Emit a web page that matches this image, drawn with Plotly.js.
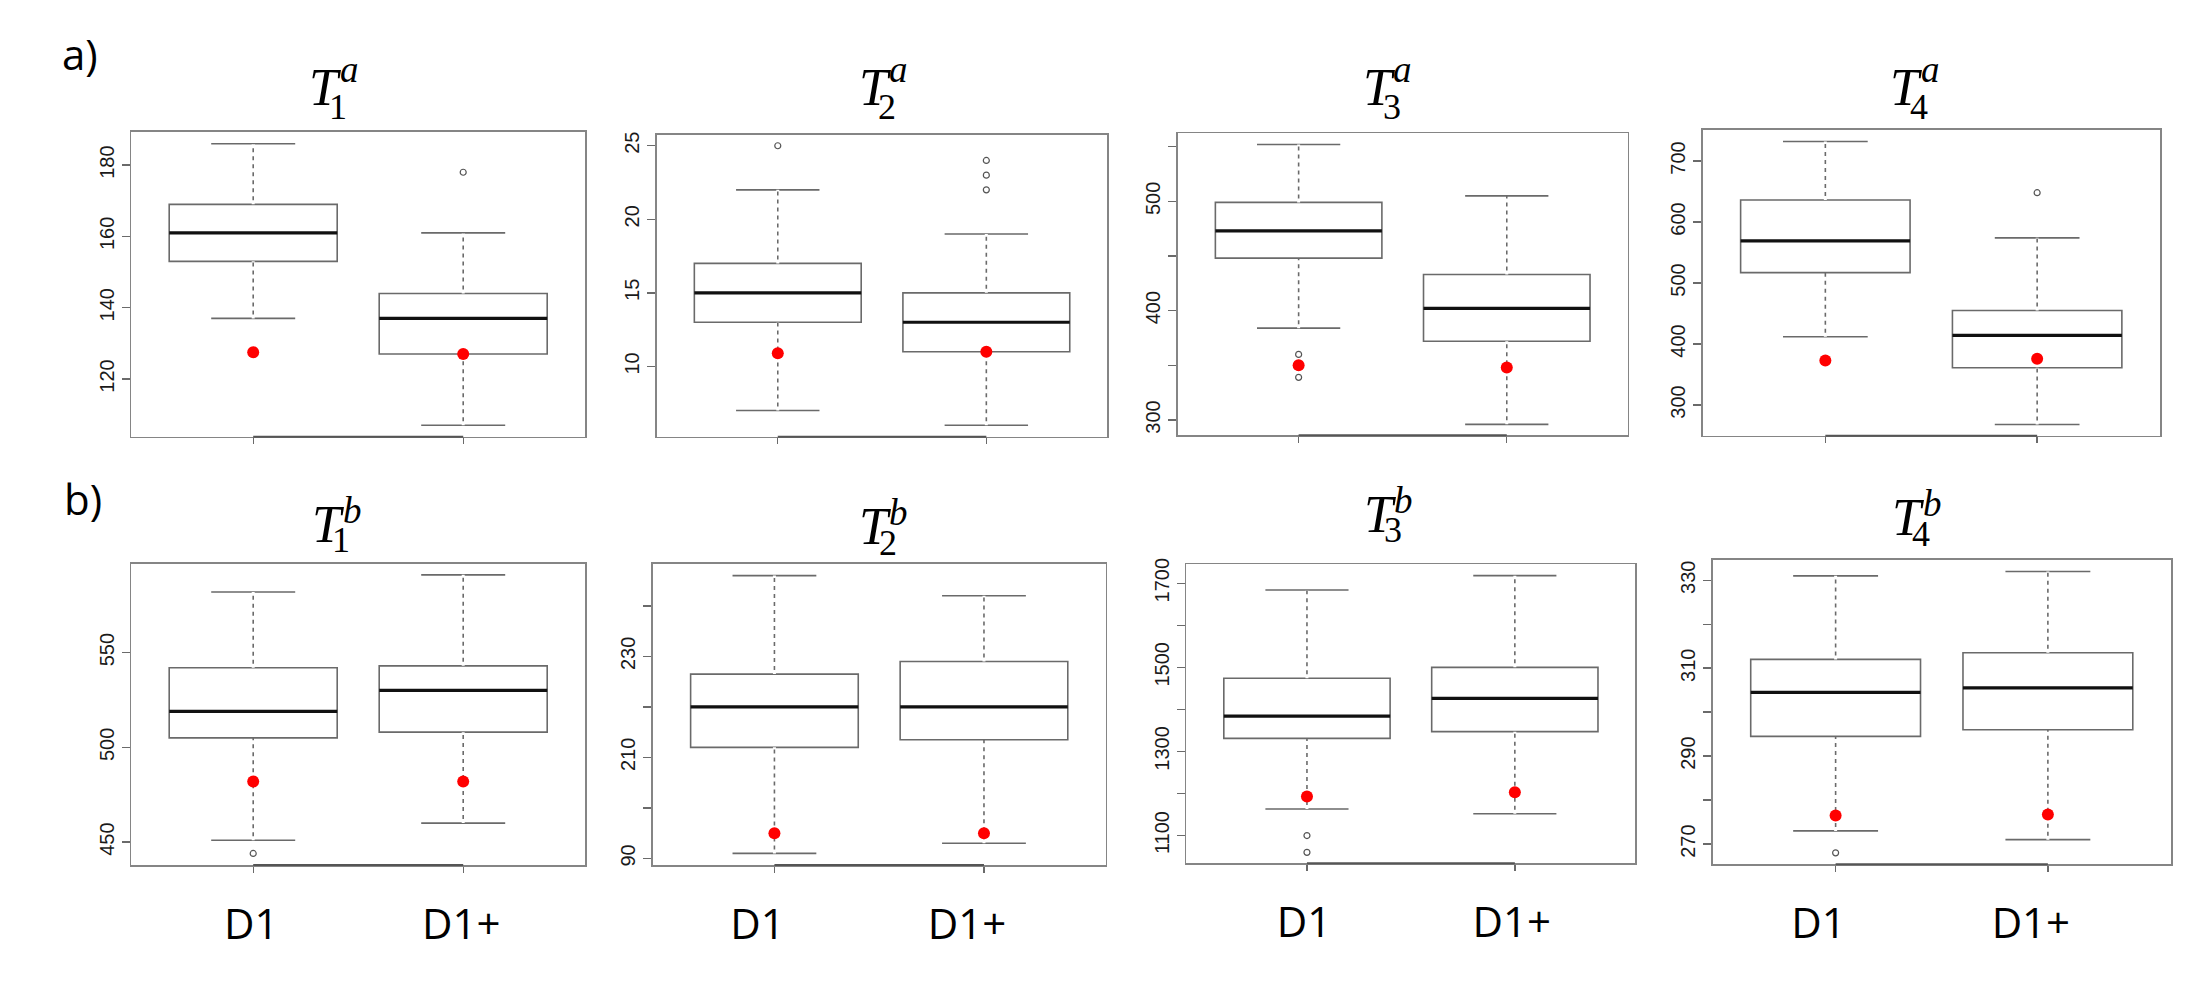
<!DOCTYPE html>
<html>
<head>
<meta charset="utf-8">
<script src="https://cdn.plot.ly/plotly-3.0.1.min.js"></script>
<style>html,body{margin:0;padding:0;background:#fff;}#chart{width:2198px;height:987px;}</style>
</head>
<body>
<div id="chart"></div>
<script>
// ---------- data (panel order: a1,a2,a3,a4,b1,b2,b3,b4; each pair = [D1, D1+]) ----------
const categories = ['D1', 'D1+'];
const panelRow   = ['a','a','a','a','b','b','b','b'];
const panelIdx   = ['1','2','3','4','1','2','3','4'];

const q1Vals   = [[153,127],[13,11],[448,372],[517,361],[505,508],[212,213.5],[1331,1347],[294.5,296]];
const medVals  = [[161,137],[15,13],[473,402],[569,414],[519,530],[220,220],[1384,1426],[304.5,305.5]];
const q3Vals   = [[169,144],[17,15],[499,433],[636,455],[542,543],[226.5,229],[1474,1500],[312,313.5]];
const loVals   = [[137,107],[7,6],[384,296],[412,268],[451,460],[191,193],[1163,1152],[273,271]];
const hiVals   = [[186,161],[22,19],[552,505],[732,574],[582,591],[246,242],[1684,1718],[331,332]];
const outVals  = [[[],[178]],[[25],[24,23,22]],[[360,339],[]],[[],[648]],[[444],[]],[[],[]],[[1100,1060],[]],[[268],[]]];
const redVals  = [[127.5,127],[10.9,11],[350,348],[373,376],[482,482],[195,195],[1193,1203],[276.5,276.7]];

const yRanges  = [[103.8,189.3],[5.22,25.75],[286,562.2],[249.7,750.8],[437.9,597],[188.7,248.4],[1034,1745],[265.4,334.6]];
const yTickVals = [
  [120,140,160,180],[10,15,20,25],[300,350,400,450,500,550],[300,400,500,600,700],
  [450,500,550],[190,200,210,220,230,240],[1100,1200,1300,1400,1500,1600,1700],[270,280,290,300,310,320,330]
];
const yTickText = [
  ['120','140','160','180'],['10','15','20','25'],['300','','400','','500',''],['300','400','500','600','700'],
  ['450','500','550'],['90','','210','','230',''],['1100','','1300','','1500','','1700'],['270','','290','','310','','330']
];

// ---------- layout geometry (pixels in a 2198x987 canvas) ----------
const W = 2198, H = 987;
const boxesPx = [
  [131.4,585.0,132.0,436.7],[656.8,1107.3,134.7,436.7],[1177.9,1627.5,133.3,435.3],[1702.5,2160.0,130.0,435.7],
  [131.4,585.0,563.5,865.0],[652.9,1105.5,563.5,865.0],[1186.4,1635.4,564.3,863.3],[1712.5,2171.0,560.0,864.3]
];
const labelShift = [0,0,0,0,-2,-17,-3,-17];
// title "T" glyph centres [x, y]
const titleT = [[325,88],[874.5,88],[1378.6,88],[1906,88],[328,524],[874.8,526.7],[1379.5,514],[1908,517.5]];

const xp = v => v / W;
const yp = v => 1 - v / H;

const frameColor = '#858585';
const traces = [];
const shapes = [];
const layout = {
  width: W, height: H,
  margin: {l:0, r:0, t:0, b:0},
  paper_bgcolor: '#ffffff', plot_bgcolor: '#ffffff',
  showlegend: false,
  annotations: [], shapes: shapes,
  font: {family: 'Liberation Sans, Arial, sans-serif', color: '#222'}
};

for (let p = 0; p < 8; p++) {
  const n = p === 0 ? '' : String(p + 1);
  const xa = 'x' + n, ya = 'y' + n;
  const pos = categories.map((c, i) => i + 1);
  const [x0, x1, y0, y1] = boxesPx[p];

  traces.push({
    type: 'box', x: pos, q1: q1Vals[p], median: medVals[p], q3: q3Vals[p],
    lowerfence: loVals[p], upperfence: hiVals[p],
    width: 0.8, whiskerwidth: 0.5, boxpoints: false,
    fillcolor: '#ffffff', line: {color: '#6a6a6a', width: 1.6},
    hoverinfo: 'skip', xaxis: xa, yaxis: ya, name: panelRow[p] + panelIdx[p]
  });

  // dashed look for the whiskers
  const wx = [], wy = [];
  pos.forEach((x, i) => {
    wx.push(x, x, null, x, x, null);
    wy.push(q3Vals[p][i], hiVals[p][i], null, loVals[p][i], q1Vals[p][i], null);
  });
  traces.push({type:'scatter', mode:'lines', x: wx, y: wy, xaxis: xa, yaxis: ya,
    line: {color:'#ffffff', width: 3, dash: '4px,4px'}, hoverinfo:'skip'});

  // thick median bars
  const mx = [], my = [];
  pos.forEach((x, i) => { mx.push(x - 0.4, x + 0.4, null); my.push(medVals[p][i], medVals[p][i], null); });
  traces.push({type:'scatter', mode:'lines', x: mx, y: my, xaxis: xa, yaxis: ya,
    line: {color:'#111111', width: 3.2}, hoverinfo:'skip'});

  // outliers
  const ox = [], oy = [];
  pos.forEach((x, i) => outVals[p][i].forEach(v => { ox.push(x); oy.push(v); }));
  traces.push({type:'scatter', mode:'markers', x: ox, y: oy, xaxis: xa, yaxis: ya,
    marker: {symbol:'circle-open', size: 6, color:'#555555', line:{width:1.2, color:'#555555'}}, hoverinfo:'skip'});

  // red reference points
  traces.push({type:'scatter', mode:'markers', x: pos, y: redVals[p], xaxis: xa, yaxis: ya,
    marker: {symbol:'circle', size: 12, color:'#ff0000'}, hoverinfo:'skip'});

  // R-style axis segment between first and last tick
  shapes.push({type:'line', xref: xa, yref: ya + ' domain', x0: pos[0], x1: pos[pos.length - 1], y0: 0, y1: 0,
    line: {color:'#555555', width: 2}, layer: 'above'});

  const isB = panelRow[p] === 'b';
  layout['xaxis' + n] = {
    domain: [xp(x0), xp(x1)], anchor: ya, range: [0.42, 2.58],
    tickmode: 'array', tickvals: pos, ticktext: isB ? categories : ['', ''],
    ticks: 'outside', ticklen: 6, tickwidth: 1.4, tickcolor: '#6a6a6a',
    showline: true, mirror: true, linecolor: frameColor, linewidth: 1.6,
    showgrid: false, zeroline: false, fixedrange: true,
    tickfont: {family: 'Open Sans, Noto Sans, sans-serif', size: 42, color: '#000'},
    ticklabelstandoff: 16, ticklabelshift: labelShift[p]
  };
  layout['yaxis' + n] = {
    domain: [yp(y1), yp(y0)], anchor: xa, range: yRanges[p],
    tickmode: 'array', tickvals: yTickVals[p], ticktext: yTickText[p], tickangle: -90,
    ticks: 'outside', ticklen: 8, tickwidth: 1.4, tickcolor: '#6a6a6a',
    showline: true, mirror: true, linecolor: frameColor, linewidth: 1.6,
    showgrid: false, zeroline: false, fixedrange: true,
    tickfont: {family: 'Liberation Sans, Arial, sans-serif', size: 20, color: '#1a1a1a'}
  };

  // panel titles  T_i^{a|b}  (stacked sub/superscript)
  const [tx, ty] = titleT[p];
  const supDy = isB ? -14 : -18.5;
  const subDy = isB ? 16 : 19;
  layout.annotations.push(
    {xref:'paper', yref:'paper', x: xp(tx), y: yp(ty), xanchor:'center', yanchor:'middle', showarrow:false,
     text:'<i>T</i>', font:{family:'Liberation Serif, DejaVu Serif, serif', size:52, color:'#000'}},
    {xref:'paper', yref:'paper', x: xp(tx + 24), y: yp(ty + supDy), xanchor:'center', yanchor:'middle', showarrow:false,
     text:'<i>' + panelRow[p] + '</i>', font:{family:'Liberation Serif, DejaVu Serif, serif', size:37, color:'#000'}},
    {xref:'paper', yref:'paper', x: xp(tx + 13), y: yp(ty + subDy), xanchor:'center', yanchor:'middle', showarrow:false,
     text: panelIdx[p], font:{family:'Liberation Serif, DejaVu Serif, serif', size:36, color:'#000'}}
  );
}

// row labels
layout.annotations.push(
  {xref:'paper', yref:'paper', x: xp(60), y: yp(53), xanchor:'left', yanchor:'middle', showarrow:false,
   text:'a)', font:{family:'Open Sans, Noto Sans, sans-serif', size:42, color:'#000'}},
  {xref:'paper', yref:'paper', x: xp(62), y: yp(498), xanchor:'left', yanchor:'middle', showarrow:false,
   text:'b)', font:{family:'Open Sans, Noto Sans, sans-serif', size:42, color:'#000'}}
);

Plotly.newPlot('chart', traces, layout, {staticPlot: true, displayModeBar: false});
</script>
</body>
</html>
